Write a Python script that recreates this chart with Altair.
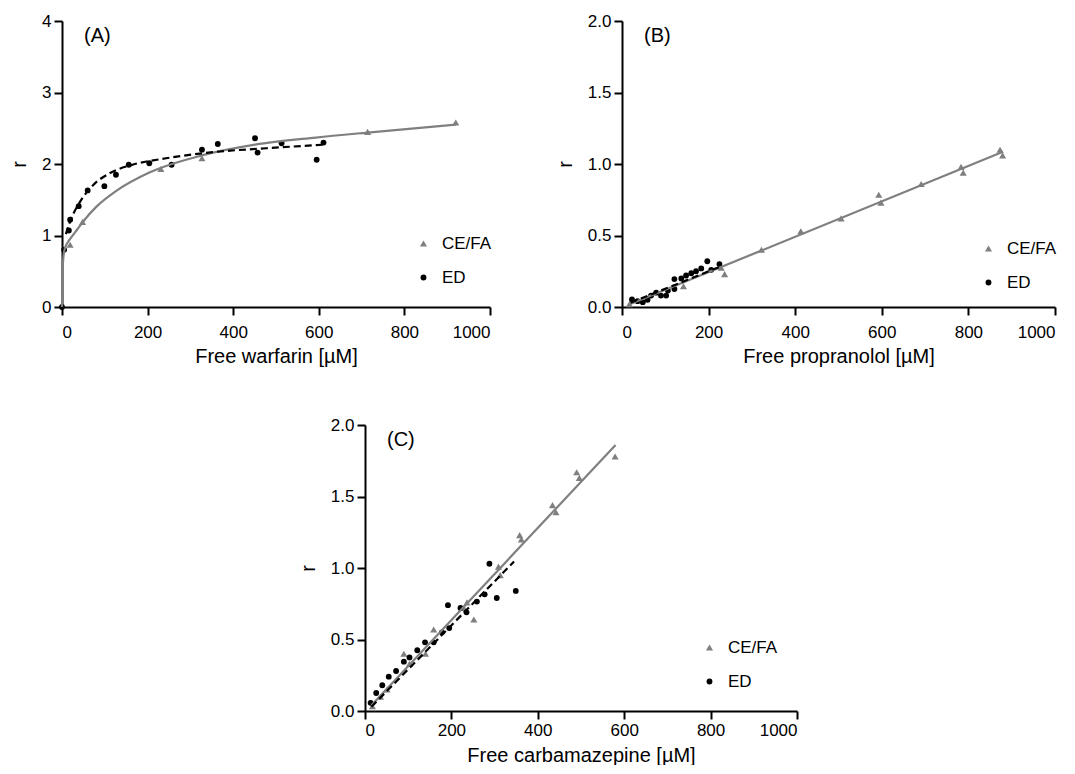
import altair as alt
import pandas as pd

FONT = "Liberation Sans"
GRAY = "#7f7f7f"

# ---------------- Panel A : warfarin ----------------
a_ce_x = [19, 48, 231, 327, 714, 920]
a_ce_y = [0.87, 1.19, 1.93, 2.08, 2.45, 2.58]
a_ed_x = [0, 5, 16, 19, 39, 60, 99, 126, 156, 204, 256, 327, 364, 451, 457, 513, 595, 611]
a_ed_y = [0.0, 0.80, 1.07, 1.22, 1.41, 1.63, 1.69, 1.85, 1.99, 2.01, 1.99, 2.20, 2.28, 2.36, 2.16, 2.29, 2.06, 2.30]
a_fit_ce_x = [0, 1, 3, 6, 12, 20, 35, 50, 80, 126, 204, 327, 451, 593, 714, 920]
a_fit_ce_y = [0.0, 0.45, 0.68, 0.80, 0.89, 0.96, 1.08, 1.20, 1.40, 1.62, 1.88, 2.12, 2.27, 2.37, 2.44, 2.55]
a_fit_ed_x = [9, 21, 40, 72, 111, 165, 243, 360, 477, 611]
a_fit_ed_y = [1.02, 1.23, 1.45, 1.70, 1.87, 1.99, 2.08, 2.17, 2.22, 2.27]

# ---------------- Panel B : propranolol ----------------
b_ce_x = [17, 142, 229, 237, 322, 413, 506, 593, 598, 691, 783, 788, 873, 879]
b_ce_y = [0.02, 0.145, 0.275, 0.23, 0.40, 0.53, 0.62, 0.785, 0.73, 0.86, 0.98, 0.94, 1.10, 1.06]
b_ed_x = [23, 36, 48, 59, 67, 79, 90, 102, 106, 121, 121, 137, 148, 160, 171, 183, 197, 206, 225]
b_ed_y = [0.053, 0.041, 0.034, 0.05, 0.08, 0.10, 0.08, 0.08, 0.115, 0.126, 0.195, 0.20, 0.22, 0.236, 0.25, 0.27, 0.32, 0.26, 0.30]
b_fit_ce_x = [15, 880]
b_fit_ce_y = [0.015, 1.085]
b_fit_ed_x = [20, 225]
b_fit_ed_y = [0.03, 0.28]

# ---------------- Panel C : carbamazepine ----------------
c_ce_x = [17, 36, 51, 90, 103, 140, 159, 229, 236, 252, 309, 313, 358, 362, 434, 442, 490, 496, 579]
c_ce_y = [0.034, 0.10, 0.15, 0.40, 0.33, 0.40, 0.57, 0.72, 0.76, 0.64, 1.01, 0.95, 1.23, 1.20, 1.44, 1.39, 1.67, 1.63, 1.78]
c_ed_x = [13, 26, 40, 55, 72, 90, 103, 121, 139, 159, 178, 192, 195, 221, 235, 259, 277, 288, 305, 349]
c_ed_y = [0.057, 0.126, 0.18, 0.24, 0.28, 0.345, 0.375, 0.425, 0.48, 0.48, 0.55, 0.74, 0.58, 0.72, 0.69, 0.765, 0.816, 1.03, 0.79, 0.84]
c_fit_ce_x = [15, 580]
c_fit_ce_y = [0.04, 1.86]
c_fit_ed_x = [15, 345]
c_fit_ed_y = [0.03, 1.045]

series = ["CE/FA", "ED"]
x_ticks = [0, 200, 400, 600, 800, 1000]


def panel(ce_x, ce_y, ed_x, ed_y, fce_x, fce_y, fed_x, fed_y,
          ymax, yticks, yfmt, xtitle, label, w, h, legx, legy, xlabpad, xtitlepad):
    pts = pd.DataFrame({
        "x": ce_x + ed_x,
        "y": ce_y + ed_y,
        "s": [series[0]] * len(ce_x) + [series[1]] * len(ed_x),
    })
    xs = alt.Scale(domain=[0, 1000], nice=False, zero=False)
    ys = alt.Scale(domain=[0, ymax], nice=False, zero=False)
    xax = alt.Axis(values=x_ticks, title=xtitle, format="d",
                   labelPadding=xlabpad, titlePadding=xtitlepad)
    yax = alt.Axis(values=yticks, title="r", format=yfmt)
    X = alt.X("x:Q", scale=xs, axis=xax)
    Y = alt.Y("y:Q", scale=ys, axis=yax)
    leg = alt.Legend(title=None, orient="none", legendX=legx, legendY=legy,
                     labelFont=FONT, labelFontSize=17, labelColor="black",
                     symbolSize=30, symbolStrokeWidth=0, rowPadding=16,
                     labelOffset=10, padding=0)
    points = alt.Chart(pts).mark_point(filled=True, opacity=1).encode(
        x=X, y=Y,
        color=alt.Color("s:N", scale=alt.Scale(domain=series, range=[GRAY, "black"]), legend=leg),
        shape=alt.Shape("s:N", scale=alt.Scale(domain=series, range=["triangle-up", "circle"]), legend=leg),
        size=alt.Size("s:N", scale=alt.Scale(domain=series, range=[50, 34]), legend=None),
    )
    fit_ce = alt.Chart(pd.DataFrame({"x": fce_x, "y": fce_y})).mark_line(
        color=GRAY, strokeWidth=2.2, interpolate="monotone").encode(x=X, y=Y)
    fit_ed = alt.Chart(pd.DataFrame({"x": fed_x, "y": fed_y})).mark_line(
        color="black", strokeWidth=2.2, strokeDash=[7, 4], interpolate="monotone").encode(x=X, y=Y)
    lab = alt.Chart(pd.DataFrame({"t": [label]})).mark_text(
        font=FONT, fontSize=20, align="left", baseline="middle", color="black").encode(
        text="t:N", x=alt.value(22), y=alt.value(15))
    return alt.layer(points, fit_ce, fit_ed, lab).properties(width=w, height=h)


A = panel(a_ce_x, a_ce_y, a_ed_x, a_ed_y, a_fit_ce_x, a_fit_ce_y, a_fit_ed_x, a_fit_ed_y,
          4, [0, 1, 2, 3, 4], "d", "Free warfarin [µM]", "(A)", 428, 286, 353, 214, 9, 6)
B = panel(b_ce_x, b_ce_y, b_ed_x, b_ed_y, b_fit_ce_x, b_fit_ce_y, b_fit_ed_x, b_fit_ed_y,
          2, [0, 0.5, 1.0, 1.5, 2.0], ".1f", "Free propranolol [µM]", "(B)", 433, 286, 358, 219, 9, 6)
C = panel(c_ce_x, c_ce_y, c_ed_x, c_ed_y, c_fit_ce_x, c_fit_ce_y, c_fit_ed_x, c_fit_ed_y,
          2, [0, 0.5, 1.0, 1.5, 2.0], ".1f", "Free carbamazepine [µM]", "(C)", 432, 286, 336, 214, 3, 7)

spacer = alt.Chart(pd.DataFrame({"v": [0]})).mark_point(opacity=0).encode(
    x=alt.value(0), y=alt.value(0)).properties(width=293, height=286)

indep = dict(color="independent", shape="independent", size="independent")
row1 = alt.hconcat(A, B, spacing=132, bounds="flush").resolve_scale(**indep)
row2 = alt.hconcat(spacer, C, spacing=10, bounds="flush").resolve_scale(**indep)

chart = alt.vconcat(row1, row2, spacing=50).resolve_scale(**indep).properties(
    padding={"left": 1, "top": 4, "right": 0, "bottom": 0}
).configure_view(stroke=None).configure_axis(
    grid=False, domainColor="black", domainWidth=2, tickColor="black", tickWidth=2, tickSize=8,
    labelFont=FONT, labelFontSize=17, labelColor="black", labelPadding=3,
    titleFont=FONT, titleFontSize=20, titleFontWeight="normal", titleColor="black", titlePadding=8,
).configure_axisY(titlePadding=12)

chart.save("out.html", embed_options={"renderer": "svg", "actions": False})
